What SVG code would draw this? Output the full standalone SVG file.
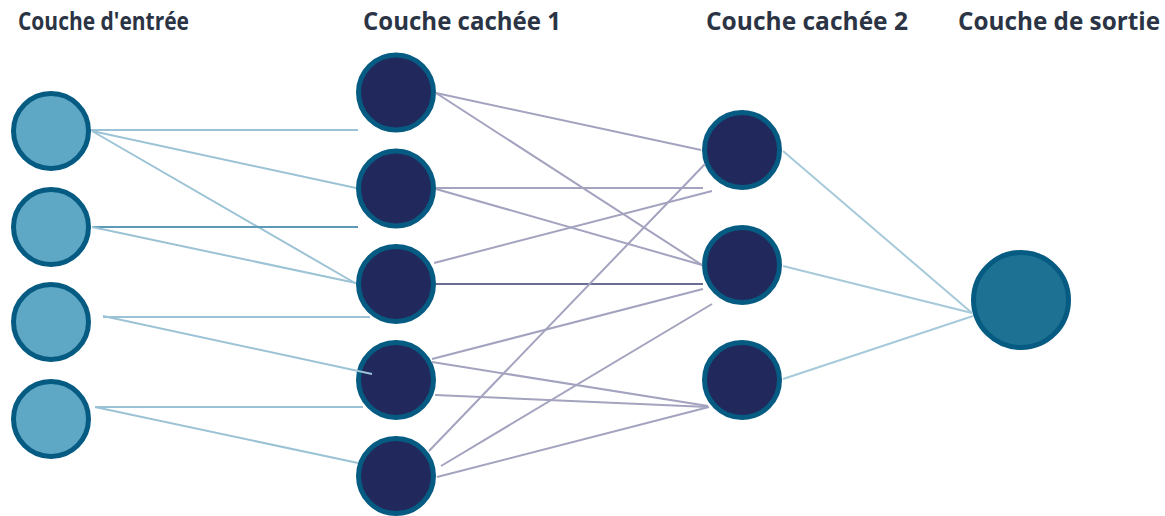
<svg xmlns="http://www.w3.org/2000/svg" width="1165" height="516" viewBox="0 0 1165 516">
<style>
.title{font-family:"Open Sans","Liberation Sans",sans-serif;font-weight:700;font-size:25px;fill:#2b3444}
.in{fill:#5fa8c5;stroke:#065b82;stroke-width:5}
.hid{fill:#21295c;stroke:#065b82;stroke-width:5}
.out{fill:#1d7192;stroke:#065b82;stroke-width:5}
.c1{stroke:#9cc3d5;stroke-width:2;fill:none}
.c1d{stroke:#5d9ab8;stroke-width:2;fill:none}
.c2{stroke:#a3a3bf;stroke-width:2;fill:none}
.c2d{stroke:#6b6d93;stroke-width:2;fill:none}
.c3{stroke:#a6cad9;stroke-width:2;fill:none}
</style>
<rect width="1165" height="516" fill="#ffffff"/>
<g id="titles">
<text class="title" x="18" y="30" textLength="171" lengthAdjust="spacingAndGlyphs">Couche d'entrée</text>
<text class="title" x="363" y="30" textLength="198" lengthAdjust="spacingAndGlyphs">Couche cachée 1</text>
<text class="title" x="706" y="30" textLength="202" lengthAdjust="spacingAndGlyphs">Couche cachée 2</text>
<text class="title" x="958" y="30" textLength="202" lengthAdjust="spacingAndGlyphs">Couche de sortie</text>
</g>
<g id="input-1"><circle class="in" cx="51" cy="131" r="37.5"/></g>
<g id="input-2"><circle class="in" cx="51" cy="227" r="37.5"/></g>
<g id="input-3"><circle class="in" cx="51" cy="322" r="37.5"/></g>
<g id="input-4"><circle class="in" cx="51" cy="419" r="37.5"/></g>
<g id="hidden1-1"><circle class="hid" cx="396" cy="92.5" r="37.5"/></g>
<g id="hidden1-2"><circle class="hid" cx="396" cy="188.5" r="37.5"/></g>
<g id="hidden1-3"><circle class="hid" cx="396" cy="284" r="37.5"/></g>
<g id="hidden1-4"><circle class="hid" cx="396" cy="380" r="37.5"/></g>
<g id="hidden1-5"><circle class="hid" cx="396" cy="476" r="37.5"/></g>
<g id="hidden2-1"><circle class="hid" cx="742" cy="150" r="37.5"/></g>
<g id="hidden2-2"><circle class="hid" cx="742" cy="265" r="37.5"/></g>
<g id="hidden2-3"><circle class="hid" cx="742" cy="380" r="37.5"/></g>
<g id="output-1"><circle class="out" cx="1021" cy="300" r="47.5"/></g>
<g id="connectors">
<line class="c1" x1="91" y1="130" x2="358" y2="130"/>
<line class="c1" x1="92" y1="131" x2="356" y2="188"/>
<line class="c1" x1="92" y1="131" x2="355" y2="283"/>
<line class="c1d" x1="92" y1="227" x2="358" y2="227"/>
<line class="c1" x1="92" y1="227" x2="356" y2="283"/>
<line class="c1" x1="103" y1="317" x2="370" y2="317"/>
<line class="c1" x1="103" y1="316" x2="372" y2="374"/>
<line class="c1" x1="95" y1="407" x2="363" y2="407"/>
<line class="c1" x1="95" y1="407" x2="358" y2="463"/>
<line class="c2" x1="436" y1="93" x2="701" y2="150"/>
<line class="c2" x1="436" y1="93" x2="702" y2="265"/>
<line class="c2" x1="436" y1="188" x2="703" y2="188"/>
<line class="c2" x1="436" y1="189" x2="702" y2="265"/>
<line class="c2" x1="434" y1="263" x2="712" y2="191"/>
<line class="c2d" x1="436" y1="284" x2="703" y2="284"/>
<line class="c2" x1="429" y1="451" x2="705" y2="164"/>
<line class="c2" x1="432" y1="359" x2="703" y2="289"/>
<line class="c2" x1="441" y1="466" x2="712" y2="304"/>
<line class="c2" x1="432" y1="362" x2="708" y2="406"/>
<line class="c2" x1="435" y1="395" x2="708" y2="407"/>
<line class="c2" x1="437" y1="477" x2="709" y2="407"/>
<line class="c3" x1="783" y1="151" x2="972" y2="313"/>
<line class="c3" x1="783" y1="266" x2="972" y2="313"/>
<line class="c3" x1="783" y1="379" x2="973" y2="316"/>
</g>
</svg>
